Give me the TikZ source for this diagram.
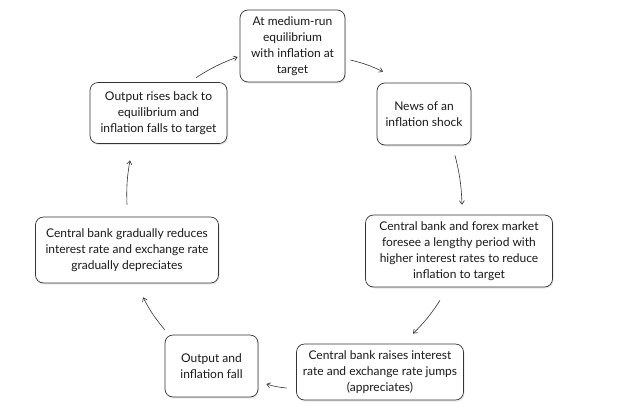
\documentclass[tikz,border=0pt]{standalone}
\usepackage{fontspec}
\setmainfont{Lato}
\usetikzlibrary{shadows,arrows.meta}
\begin{document}
\begin{tikzpicture}[x=1pt,y=-1pt,
  box/.style={draw=black!80, line width=0.7pt, rounded corners=8pt, fill=white, align=center,
    font=\fontsize{12}{16}\selectfont, text=black!90, inner sep=2pt,
    drop shadow={opacity=0.18, shadow xshift=1pt, shadow yshift=-1.5pt}},
  arr/.style={draw=black!80, line width=0.6pt, -{Straight Barb[length=3.5pt,width=5pt]}, bend left=6}]
\useasboundingbox (0,0) rectangle (618,416);
\node[box, minimum width=105pt, minimum height=72pt] (b1) at (292.5,46) {At medium-run\\equilibrium\\with inflation at\\target};
\node[box, minimum width=94pt, minimum height=62pt] (b2) at (424,114) {News of an\\inflation shock};
\node[box, minimum width=187pt, minimum height=72pt] (b3) at (459,251) {Central bank and forex market\\foresee a lengthy period with\\higher interest rates to reduce\\inflation to target};
\node[box, minimum width=167pt, minimum height=56pt] (b4) at (380,372) {Central bank raises interest\\rate and exchange rate jumps\\(appreciates)};
\node[box, minimum width=93pt, minimum height=62pt] (b5) at (211.5,366) {Output and\\inflation fall};
\node[box, minimum width=183pt, minimum height=66pt] (b6) at (127,250) {Central bank gradually reduces\\interest rate and exchange rate\\gradually depreciates};
\node[box, minimum width=137pt, minimum height=61pt] (b7) at (158.5,113) {Output rises back to\\equilibrium and\\inflation falls to target};
\draw[arr] ([shift={(37.5,-4.5)}]b7.north) to ([shift={(-2,11)}]b1.west);
\draw[arr] ([shift={(5,14)}]b1.east) to ([shift={(-41,-11)}]b2.north);
\draw[arr] ([shift={(31,10)}]b2.south) to ([shift={(3,-10)}]b3.north);
\draw[arr] ([shift={(-19,13)}]b3.south) to ([shift={(33,-10)}]b4.north);
\draw[arr] ([shift={(-9.5,16)}]b4.west) to ([shift={(8,18)}]b5.east);
\draw[arr] ([shift={(0,-5)}]b5.north west) to ([shift={(16,14)}]b6.south);
\draw[arr] ([shift={(0,-12)}]b6.north) to ([shift={(-28.5,16.5)}]b7.south);
\end{tikzpicture}
\end{document}
